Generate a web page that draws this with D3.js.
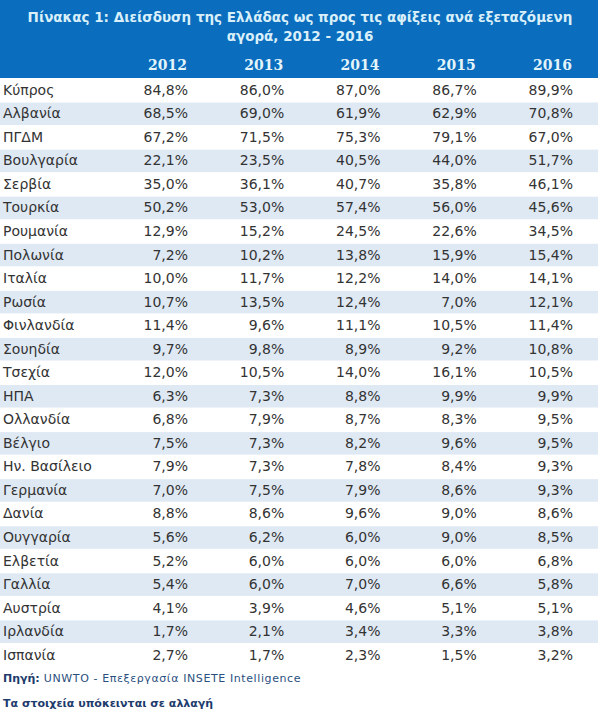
<!DOCTYPE html>
<html>
<head>
<meta charset="utf-8">
<script src="https://cdn.jsdelivr.net/npm/d3@7"></script>
<style>
  body { margin: 0; background: #fff; }
</style>
</head>
<body>
<div id="chart"></div>
<script>
// Table data
const years = ['2012', '2013', '2014', '2015', '2016'];

const countries = [
  'Κύπρος', 'Αλβανία', 'ΠΓΔΜ', 'Βουλγαρία', 'Σερβία', 'Τουρκία', 'Ρουμανία',
  'Πολωνία', 'Ιταλία', 'Ρωσία', 'Φινλανδία', 'Σουηδία', 'Τσεχία', 'ΗΠΑ',
  'Ολλανδία', 'Βέλγιο', 'Ην. Βασίλειο', 'Γερμανία', 'Δανία', 'Ουγγαρία',
  'Ελβετία', 'Γαλλία', 'Αυστρία', 'Ιρλανδία', 'Ισπανία',
];

const v2012 = [84.8, 68.5, 67.2, 22.1, 35.0, 50.2, 12.9, 7.2, 10.0, 10.7, 11.4, 9.7, 12.0, 6.3, 6.8, 7.5, 7.9, 7.0, 8.8, 5.6, 5.2, 5.4, 4.1, 1.7, 2.7];
const v2013 = [86.0, 69.0, 71.5, 23.5, 36.1, 53.0, 15.2, 10.2, 11.7, 13.5, 9.6, 9.8, 10.5, 7.3, 7.9, 7.3, 7.3, 7.5, 8.6, 6.2, 6.0, 6.0, 3.9, 2.1, 1.7];
const v2014 = [87.0, 61.9, 75.3, 40.5, 40.7, 57.4, 24.5, 13.8, 12.2, 12.4, 11.1, 8.9, 14.0, 8.8, 8.7, 8.2, 7.8, 7.9, 9.6, 6.0, 6.0, 7.0, 4.6, 3.4, 2.3];
const v2015 = [86.7, 62.9, 79.1, 44.0, 35.8, 56.0, 22.6, 15.9, 14.0, 7.0, 10.5, 9.2, 16.1, 9.9, 8.3, 9.6, 8.4, 8.6, 9.0, 9.0, 6.0, 6.6, 5.1, 3.3, 1.5];
const v2016 = [89.9, 70.8, 67.0, 51.7, 46.1, 45.6, 34.5, 15.4, 14.1, 12.1, 11.4, 10.8, 10.5, 9.9, 9.5, 9.5, 9.3, 9.3, 8.6, 8.5, 6.8, 5.8, 5.1, 3.8, 3.2];

const titleLines = [
  'Πίνακας 1: Διείσδυση της Ελλάδας ως προς τις αφίξεις ανά εξεταζόμενη',
  'αγορά, 2012 - 2016',
];
const sourceLabel = 'Πηγή:';
const sourceText = ' UNWTO - Επεξεργασία INSETE Intelligence';
const noteText = 'Τα στοιχεία υπόκεινται σε αλλαγή';

const width = 600;
const height = 720;
const tableW = 598;
const headerH = 78;
const sans = "'DejaVu Sans', Verdana, sans-serif";
const serif = "'DejaVu Serif', Georgia, serif";

const series = [v2012, v2013, v2014, v2015, v2016];

const svg = d3.select('#chart')
  .append('svg')
  .attr('width', width)
  .attr('height', height)
  .style('font-family', sans);

// rows and columns
const y = d3.scaleBand().domain(countries).range([headerH, 666.5]);
const x = d3.scalePoint().domain(years).range([188, 573]);
const fmt = v => d3.format('.1f')(v).replace('.', ',') + '%';

// header block
svg.append('rect')
  .attr('x', 0).attr('y', 0)
  .attr('width', tableW).attr('height', headerH)
  .attr('fill', '#0b6dbd');

svg.selectAll('.title')
  .data(titleLines)
  .join('text')
  .attr('class', 'title')
  .attr('x', 300)
  .attr('y', (d, i) => 17 + i * 19)
  .attr('dominant-baseline', 'central')
  .attr('text-anchor', 'middle')
  .attr('font-size', 13.5)
  .attr('font-weight', 'bold')
  .attr('fill', '#d9f0fa')
  .text(d => d);

svg.selectAll('.year')
  .data(years)
  .join('text')
  .attr('class', 'year')
  .attr('x', d => x(d) - 1)
  .attr('y', 65)
  .attr('dominant-baseline', 'central')
  .attr('text-anchor', 'end')
  .style('font-family', serif)
  .attr('font-size', 14)
  .attr('font-weight', 'bold')
  .attr('fill', '#e3f4fb')
  .text(d => d);

// row stripes
svg.selectAll('.stripe')
  .data(countries)
  .join('rect')
  .attr('class', 'stripe')
  .attr('x', 0)
  .attr('y', d => y(d) + 1)
  .attr('width', tableW)
  .attr('height', y.bandwidth() - 1)
  .attr('fill', (d, i) => (i % 2 ? '#dfe9f4' : '#ffffff'));

// country names
svg.selectAll('.country')
  .data(countries)
  .join('text')
  .attr('class', 'country')
  .attr('x', 3)
  .attr('y', d => y(d) + y.bandwidth() / 2)
  .attr('dominant-baseline', 'central')
  .attr('font-size', 14)
  .attr('fill', '#333')
  .text(d => d);

// values
years.forEach((yr, j) => {
  svg.append('g')
    .selectAll('text')
    .data(series[j])
    .join('text')
    .attr('x', x(yr))
    .attr('y', (d, i) => y(countries[i]) + y.bandwidth() / 2)
    .attr('dominant-baseline', 'central')
    .attr('text-anchor', 'end')
    .attr('font-size', 14)
    .attr('fill', '#333')
    .text(d => fmt(d));
});

// footer
const src = svg.append('text')
  .attr('x', 3)
  .attr('y', 678)
  .attr('dominant-baseline', 'central')
  .attr('font-size', 11);
src.append('tspan')
  .attr('font-weight', 'bold')
  .attr('fill', '#1d3b6c')
  .text(sourceLabel);
src.append('tspan')
  .attr('fill', '#2a4f80')
  .attr('letter-spacing', 0.6)
  .text(sourceText);

svg.append('text')
  .attr('x', 3)
  .attr('y', 703)
  .attr('dominant-baseline', 'central')
  .attr('font-size', 11)
  .attr('font-weight', 'bold')
  .attr('fill', '#1d3b6c')
  .text(noteText);
</script>
</body>
</html>
